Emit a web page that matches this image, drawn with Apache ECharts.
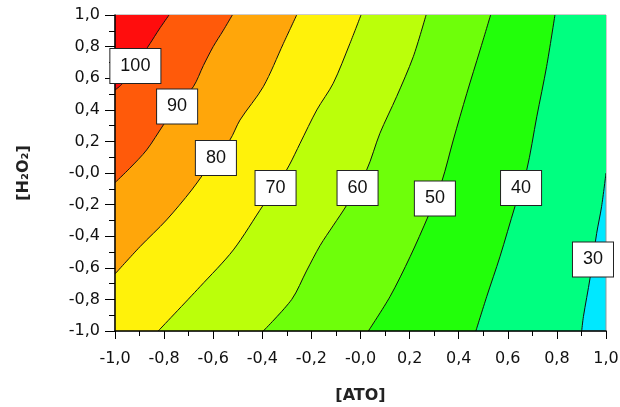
<!DOCTYPE html>
<html>
<head>
<meta charset="utf-8">
<script src="https://cdn.jsdelivr.net/npm/echarts@6/dist/echarts.min.js"></script>
<style>
  html, body { margin: 0; padding: 0; background: #fff; }
  #chart { width: 620px; height: 407px; }
</style>
</head>
<body>
<div id="chart"></div>
<script>
// contour levels, left (high) to right (low)
const levels = [100, 90, 80, 70, 60, 50, 40, 30]

// contour lines, [ATO, H2O2], from top/right edge down
const c100 = [[-0.78, 1.0], [-0.82, 0.91], [-0.857, 0.82], [-0.9, 0.72], [-0.94, 0.63], [-0.97, 0.565], [-1.0, 0.525]]
const c90 = [[-0.522, 1.0], [-0.56, 0.9], [-0.6, 0.8], [-0.64, 0.68], [-0.681, 0.546], [-0.75, 0.42], [-0.803, 0.304], [-0.871, 0.146], [-0.94, 0.03], [-1.0, -0.061]]
const c80 = [[-0.26, 1.0], [-0.314, 0.82], [-0.396, 0.546], [-0.491, 0.335], [-0.532, 0.209], [-0.6, 0.08], [-0.688, -0.108], [-0.79, -0.297], [-0.898, -0.466], [-1.0, -0.639]]
const c70 = [[0.002, 1.0], [-0.043, 0.82], [-0.111, 0.568], [-0.178, 0.399], [-0.246, 0.188], [-0.29, 0.05], [-0.34, -0.08], [-0.396, -0.203], [-0.518, -0.487], [-0.654, -0.72], [-0.824, -1.0]]
const c60 = [[0.267, 1.0], [0.215, 0.736], [0.147, 0.483], [0.079, 0.251], [0.025, 0.019], [-0.056, -0.203], [-0.11, -0.33], [-0.165, -0.46], [-0.22, -0.62], [-0.28, -0.8], [-0.396, -1.0]]
const c50 = [[0.53, 1.0], [0.487, 0.778], [0.433, 0.504], [0.378, 0.209], [0.331, -0.055], [0.276, -0.272], [0.202, -0.53], [0.12, -0.783], [0.032, -1.0]]
const c40 = [[0.792, 1.0], [0.758, 0.673], [0.718, 0.356], [0.677, 0.019], [0.629, -0.213], [0.568, -0.53], [0.514, -0.783], [0.47, -1.0]]
const c30 = [[1.0, 0.0], [0.982, -0.213], [0.962, -0.382], [0.935, -0.666], [0.908, -0.909], [0.901, -1.0]]
const contours = [c100, c90, c80, c70, c60, c50, c40, c30]

// label boxes on the lines
const labelX = [-0.917, -0.747, -0.589, -0.346, -0.012, 0.303, 0.654, 0.947]
const labelY = [0.678, 0.421, 0.095, -0.095, -0.095, -0.161, -0.095, -0.547]

// band colours: above each level, plus the lowest band
const bandColors = ['#ff0d0d', '#ff5a0a', '#ffa60a', '#fff20a', '#bbff0a', '#6eff0a', '#22ff0a', '#00ff80']
const lowColor = '#00e8ff'

const chart = echarts.init(document.getElementById('chart'))

function tickFmt(v) {
  if (Math.abs(v) < 1e-9) return '-0,0'
  return v.toFixed(1).replace('.', ',')
}

// polygon of the area left of a contour line
function leftRegion(pts) {
  const poly = pts.slice()
  const first = pts[0]
  const last = pts[pts.length - 1]
  if (last[1] <= -1) poly.push([-1, -1])
  poly.push([-1, 1])
  if (first[0] >= 1) poly.push([1, 1])
  return poly
}

// draw the lowest levels first so higher bands sit on top
const drawOrder = levels.map((l, i) => i).reverse()

const axisText = { fontFamily: 'DejaVu Sans', fontSize: 16, color: '#111' }
const nameText = { fontFamily: 'DejaVu Sans', fontSize: 16, fontWeight: 'bold', color: '#222' }

chart.setOption({
  animation: false,
  grid: {
    left: 115,
    right: 14,
    top: 15,
    bottom: 76,
    containLabel: false,
    outerBoundsMode: 'none',
    show: true,
    backgroundColor: lowColor,
    borderColor: '#999',
    borderWidth: 1
  },
  xAxis: {
    type: 'value',
    min: -1,
    max: 1,
    interval: 0.2,
    z: 10,
    name: '[ATO]',
    nameLocation: 'middle',
    nameGap: 57,
    nameTextStyle: nameText,
    axisLine: { onZero: false, lineStyle: { color: '#000', width: 1.5 } },
    axisTick: { length: 8, lineStyle: { color: '#000' } },
    minorTick: { show: true, splitNumber: 2, length: 5, lineStyle: { color: '#000' } },
    splitLine: { show: false },
    axisLabel: Object.assign({ margin: 20, formatter: tickFmt }, axisText)
  },
  yAxis: {
    type: 'value',
    min: -1,
    max: 1,
    interval: 0.2,
    z: 10,
    name: '[H₂O₂]',
    nameLocation: 'middle',
    nameGap: 83,
    nameTextStyle: nameText,
    axisLine: { onZero: false, lineStyle: { color: '#000', width: 1.5 } },
    axisTick: { length: 10, lineStyle: { color: '#000' } },
    minorTick: { show: true, splitNumber: 2, length: 6, lineStyle: { color: '#000' } },
    splitLine: { show: false },
    axisLabel: Object.assign({ margin: 15, formatter: tickFmt }, axisText)
  },
  series: [
    {
      type: 'custom',
      clip: true,
      data: drawOrder.map((i) => [contours[i][0][0], contours[i][0][1], i]),
      renderItem: (params, api) => {
        const idx = api.value(2)
        const pts = contours[idx]
        return {
          type: 'group',
          children: [
            {
              type: 'polygon',
              shape: { points: leftRegion(pts).map((p) => api.coord(p)) },
              style: { fill: bandColors[idx], stroke: 'none' }
            },
            {
              type: 'polyline',
              shape: { points: pts.map((p) => api.coord(p)), smooth: 0.3 },
              style: { fill: 'none', stroke: '#111', lineWidth: 1 }
            }
          ]
        }
      }
    },
    {
      type: 'scatter',
      symbol: 'rect',
      symbolSize: 1,
      itemStyle: { color: 'transparent', opacity: 1 },
      z: 12,
      data: levels.map((l, i) => [labelX[i], labelY[i], l]),
      label: {
        show: true,
        position: 'inside',
        formatter: (p) => String(p.value[2]),
        fontFamily: 'Liberation Sans',
        fontSize: 18,
        lineHeight: 18,
        color: '#111',
        backgroundColor: '#fff',
        borderColor: '#222',
        borderWidth: 1,
        padding: [8, 10, 8, 10]
      }
    }
  ]
})
</script>
</body>
</html>
